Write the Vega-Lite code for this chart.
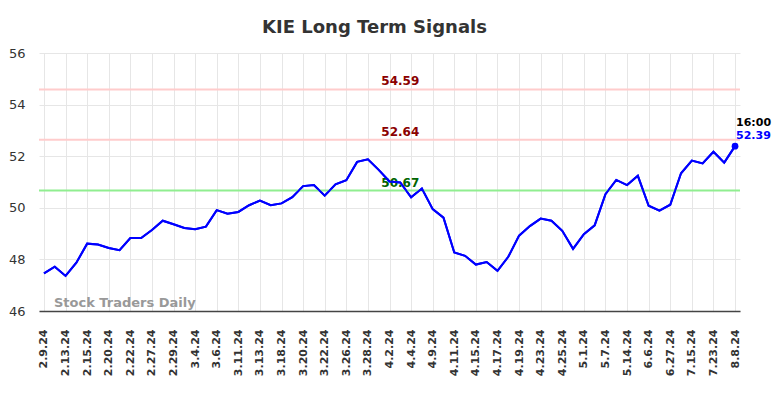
{
  "$schema": "https://vega.github.io/schema/vega-lite/v6.json",
  "autosize": "none",
  "width": 701,
  "height": 258,
  "padding": {"left": 39, "top": 53, "right": 44, "bottom": 87},
  "background": "white",
  "title": {"text": "KIE Long Term Signals", "font": "DejaVu Sans", "fontSize": 18, "fontWeight": "bold", "color": "#333333", "anchor": "middle", "dx": -15, "offset": 10},
  "config": {"view": {"stroke": null}, "font": "DejaVu Sans"},
  "datasets": {
    "prices": [
      {"date": "2.9.24", "close": 47.46}, {"date": "2.12.24", "close": 47.72}, {"date": "2.13.24", "close": 47.36}, {"date": "2.14.24", "close": 47.87},
      {"date": "2.15.24", "close": 48.61}, {"date": "2.16.24", "close": 48.58}, {"date": "2.20.24", "close": 48.44}, {"date": "2.21.24", "close": 48.36},
      {"date": "2.22.24", "close": 48.83}, {"date": "2.23.24", "close": 48.83}, {"date": "2.27.24", "close": 49.14}, {"date": "2.28.24", "close": 49.5},
      {"date": "2.29.24", "close": 49.36}, {"date": "3.1.24", "close": 49.22}, {"date": "3.4.24", "close": 49.17}, {"date": "3.5.24", "close": 49.27},
      {"date": "3.6.24", "close": 49.91}, {"date": "3.7.24", "close": 49.77}, {"date": "3.11.24", "close": 49.84}, {"date": "3.12.24", "close": 50.1},
      {"date": "3.13.24", "close": 50.28}, {"date": "3.14.24", "close": 50.1}, {"date": "3.18.24", "close": 50.17}, {"date": "3.19.24", "close": 50.41},
      {"date": "3.20.24", "close": 50.84}, {"date": "3.21.24", "close": 50.88}, {"date": "3.22.24", "close": 50.47}, {"date": "3.25.24", "close": 50.91},
      {"date": "3.26.24", "close": 51.07}, {"date": "3.27.24", "close": 51.78}, {"date": "3.28.24", "close": 51.88}, {"date": "4.1.24", "close": 51.47},
      {"date": "4.2.24", "close": 51.02}, {"date": "4.3.24", "close": 50.98}, {"date": "4.4.24", "close": 50.41}, {"date": "4.5.24", "close": 50.75},
      {"date": "4.9.24", "close": 49.95}, {"date": "4.10.24", "close": 49.62}, {"date": "4.11.24", "close": 48.27}, {"date": "4.12.24", "close": 48.14},
      {"date": "4.15.24", "close": 47.8}, {"date": "4.16.24", "close": 47.9}, {"date": "4.17.24", "close": 47.56}, {"date": "4.18.24", "close": 48.1},
      {"date": "4.19.24", "close": 48.92}, {"date": "4.22.24", "close": 49.29}, {"date": "4.23.24", "close": 49.58}, {"date": "4.24.24", "close": 49.5},
      {"date": "4.25.24", "close": 49.11}, {"date": "4.26.24", "close": 48.41}, {"date": "5.1.24", "close": 48.98}, {"date": "5.6.24", "close": 49.32},
      {"date": "5.7.24", "close": 50.53}, {"date": "5.10.24", "close": 51.08}, {"date": "5.14.24", "close": 50.88}, {"date": "5.20.24", "close": 51.24},
      {"date": "6.6.24", "close": 50.08}, {"date": "6.14.24", "close": 49.89}, {"date": "6.27.24", "close": 50.12}, {"date": "7.3.24", "close": 51.34},
      {"date": "7.15.24", "close": 51.83}, {"date": "7.18.24", "close": 51.72}, {"date": "7.23.24", "close": 52.17}, {"date": "8.1.24", "close": 51.75},
      {"date": "8.8.24", "close": 52.39}
    ],
    "levels": [
      {"level": 54.59, "label": "54.59", "lineColor": "#ffcccc", "textColor": "#8b0000", "at": "4.3.24"},
      {"level": 52.64, "label": "52.64", "lineColor": "#ffcccc", "textColor": "#8b0000", "at": "4.3.24"},
      {"level": 50.67, "label": "50.67", "lineColor": "#90ee90", "textColor": "#006400", "at": "4.3.24"}
    ],
    "last": [{"date": "8.8.24", "close": 52.39, "time": "16:00", "label": "52.39"}],
    "mark": [{"date": "2.9.24", "y": 46, "text": "Stock Traders Daily"}]
  },
  "layer": [
    {
      "data": {"name": "prices"},
      "mark": {"type": "line", "color": "#0000ff", "strokeWidth": 2},
      "encoding": {
        "x": {
          "field": "date", "type": "ordinal", "sort": null,
          "scale": {"type": "point", "padding": 0.46},
          "axis": {
            "title": null,
            "values": ["2.9.24","2.13.24","2.15.24","2.20.24","2.22.24","2.27.24","2.29.24","3.4.24","3.6.24","3.11.24","3.13.24","3.18.24","3.20.24","3.22.24","3.26.24","3.28.24","4.2.24","4.4.24","4.9.24","4.11.24","4.15.24","4.17.24","4.19.24","4.23.24","4.25.24","5.1.24","5.7.24","5.14.24","6.6.24","6.27.24","7.15.24","7.23.24","8.8.24"],
            "labelAngle": 270, "labelFontSize": 11, "labelFontWeight": "bold", "labelColor": "#333333",
            "labelPadding": 18, "ticks": false, "tickSize": 0,
            "domain": true, "domainColor": "#444444", "domainWidth": 1.5,
            "grid": true, "gridColor": "#e6e6e6", "gridWidth": 1
          }
        },
        "y": {
          "field": "close", "type": "quantitative",
          "scale": {"domain": [46, 56], "zero": false, "nice": false},
          "axis": {
            "title": null, "values": [46, 48, 50, 52, 54, 56],
            "labelFontSize": 13, "labelColor": "#333333", "labelPadding": 14,
            "ticks": false, "domain": false, "grid": true, "gridColor": "#e6e6e6", "gridWidth": 1
          }
        }
      }
    },
    {
      "data": {"name": "levels"},
      "mark": {"type": "rule", "strokeWidth": 2},
      "encoding": {
        "y": {"field": "level", "type": "quantitative"},
        "color": {"field": "lineColor", "type": "nominal", "scale": null}
      }
    },
    {
      "data": {"name": "levels"},
      "mark": {"type": "text", "fontSize": 12, "fontWeight": "bold", "align": "center", "baseline": "alphabetic", "dy": -4},
      "encoding": {
        "x": {"field": "at", "type": "ordinal", "sort": null},
        "y": {"field": "level", "type": "quantitative"},
        "text": {"field": "label"},
        "color": {"field": "textColor", "type": "nominal", "scale": null}
      }
    },
    {
      "data": {"name": "prices"},
      "mark": {"type": "line", "color": "#0000ff", "strokeWidth": 2},
      "encoding": {
        "x": {"field": "date", "type": "ordinal", "sort": null},
        "y": {"field": "close", "type": "quantitative"}
      }
    },
    {
      "data": {"name": "last"},
      "mark": {"type": "point", "filled": true, "color": "#0000ff", "size": 45, "opacity": 1},
      "encoding": {
        "x": {"field": "date", "type": "ordinal", "sort": null},
        "y": {"field": "close", "type": "quantitative"}
      }
    },
    {
      "data": {"name": "last"},
      "mark": {"type": "text", "fontSize": 11, "fontWeight": "bold", "align": "left", "baseline": "alphabetic", "dx": 1, "dy": -20, "color": "#000000"},
      "encoding": {
        "x": {"field": "date", "type": "ordinal", "sort": null},
        "y": {"field": "close", "type": "quantitative"},
        "text": {"field": "time"}
      }
    },
    {
      "data": {"name": "last"},
      "mark": {"type": "text", "fontSize": 11, "fontWeight": "bold", "align": "left", "baseline": "alphabetic", "dx": 1, "dy": -7, "color": "#0000ff"},
      "encoding": {
        "x": {"field": "date", "type": "ordinal", "sort": null},
        "y": {"field": "close", "type": "quantitative"},
        "text": {"field": "label"}
      }
    },
    {
      "data": {"name": "mark"},
      "mark": {"type": "text", "fontSize": 13, "fontWeight": "bold", "align": "left", "baseline": "alphabetic", "dx": 10, "dy": -4, "color": "#999999"},
      "encoding": {
        "x": {"field": "date", "type": "ordinal", "sort": null},
        "y": {"field": "y", "type": "quantitative"},
        "text": {"field": "text"}
      }
    }
  ]
}
